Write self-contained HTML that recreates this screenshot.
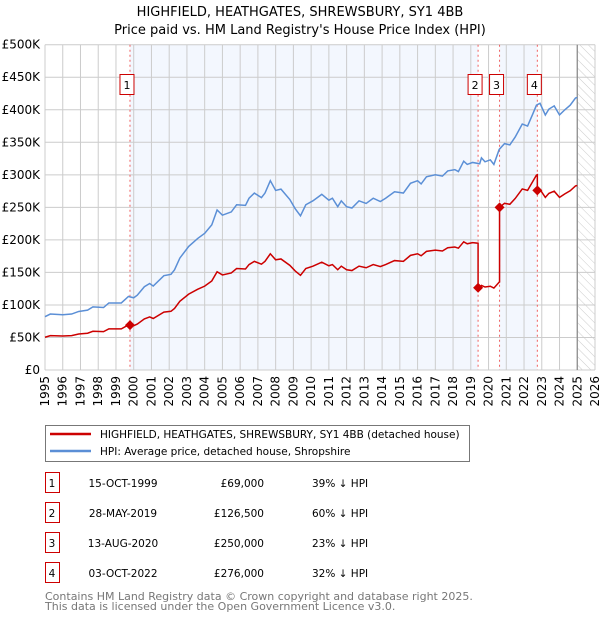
<!DOCTYPE html>
<html><head><meta charset="utf-8"><style>
body{margin:0;background:#fff;font-family:"Liberation Sans",sans-serif}
svg text{font-family:"DejaVu Sans","Liberation Sans",sans-serif}
</style></head><body>
<svg id="c" width="600" height="620" xmlns="http://www.w3.org/2000/svg">
<defs><pattern id="hatch" width="6" height="6" patternUnits="userSpaceOnUse" patternTransform="rotate(-45)"><line x1="0" y1="0" x2="0" y2="6" stroke="#ccc" stroke-width="1"/></pattern></defs>
<text x="300" y="16" text-anchor="middle" font-size="13">HIGHFIELD, HEATHGATES, SHREWSBURY, SY1 4BB</text>
<text x="300" y="34" text-anchor="middle" font-size="13">Price paid vs. HM Land Registry's House Price Index (HPI)</text>
<g id="plot"></g>
<g>
<rect x="45.5" y="425.5" width="424" height="36" fill="#fff" stroke="#777"/>
<line x1="50" y1="434" x2="91" y2="434" stroke="#cc0000" stroke-width="2.5"/>
<text x="100" y="438" font-size="10.5">HIGHFIELD, HEATHGATES, SHREWSBURY, SY1 4BB (detached house)</text>
<line x1="50" y1="451" x2="91" y2="451" stroke="#5b8fd6" stroke-width="2.5"/>
<text x="100" y="455" font-size="10.5">HPI: Average price, detached house, Shropshire</text>
</g>
<g id="table" font-size="10.5"></g>
<text x="45" y="600" font-size="11" fill="#777">Contains HM Land Registry data © Crown copyright and database right 2025.</text>
<text x="45" y="610" font-size="11" fill="#777">This data is licensed under the Open Government Licence v3.0.</text>
</svg>
<script>
const hpiYears=[1995.0,1995.3,1996.0,1996.5,1996.9,1997.4,1997.7,1998.3,1998.6,1999.3,1999.7,2000.0,2000.2,2000.6,2000.9,2001.1,2001.7,2002.1,2002.3,2002.6,2003.1,2003.6,2004.0,2004.4,2004.7,2005.0,2005.5,2005.8,2006.3,2006.5,2006.8,2007.2,2007.4,2007.7,2008.0,2008.3,2008.8,2009.1,2009.4,2009.7,2010.1,2010.6,2011.0,2011.2,2011.5,2011.7,2012.0,2012.3,2012.7,2013.1,2013.5,2013.9,2014.2,2014.7,2015.2,2015.6,2016.0,2016.2,2016.5,2017.0,2017.4,2017.7,2018.1,2018.3,2018.6,2018.8,2019.1,2019.5,2019.6,2019.8,2020.1,2020.3,2020.6,2020.9,2021.2,2021.5,2021.9,2022.2,2022.5,2022.7,2022.9,2023.2,2023.4,2023.7,2024.0,2024.3,2024.6,2024.9,2025.0];
const hpiValues=[82,86,85,86,90,92,97,96,103,103,113,111,115,128,133,129,145,147,154,172,190,202,210,223,246,238,243,254,253,264,272,265,272,291,276,278,262,248,237,254,260,270,261,264,251,260,251,249,260,256,264,259,264,274,272,287,291,286,297,300,298,306,308,305,321,316,319,317,326,320,323,316,339,348,346,358,378,375,394,407,410,392,401,406,392,400,407,418,419];
const saleYears=[1999.79,2019.41,2020.62,2022.75];
const salePrices=[69,126.5,250,276];
const saleLabels=["1","2","3","4"];
const saleDates=["15-OCT-1999","28-MAY-2019","13-AUG-2020","03-OCT-2022"];
const salePriceText=["£69,000","£126,500","£250,000","£276,000"];
const saleDiffText=["39% ↓ HPI","60% ↓ HPI","23% ↓ HPI","32% ↓ HPI"];
const yTicks=[0,50,100,150,200,250,300,350,400,450,500];
const yTickLabels=["£0","£50K","£100K","£150K","£200K","£250K","£300K","£350K","£400K","£450K","£500K"];
const xTicks=[1995,1996,1997,1998,1999,2000,2001,2002,2003,2004,2005,2006,2007,2008,2009,2010,2011,2012,2013,2014,2015,2016,2017,2018,2019,2020,2021,2022,2023,2024,2025,2026];

const X0=45,X1=595,Y0=370,Y1=44.7;
const xs=y=>X0+(y-1995)/31*(X1-X0);
const ys=v=>Y0-v/500*(Y0-Y1);
const NS="http://www.w3.org/2000/svg";
const plot=document.getElementById('plot');
function mk(tag,attrs,parent){const e=document.createElementNS(NS,tag);for(const k in attrs)e.setAttribute(k,attrs[k]);(parent||plot).appendChild(e);return e;}
function hpiAt(t){for(let i=1;i<hpiYears.length;i++){if(t<=hpiYears[i]){const f=(t-hpiYears[i-1])/(hpiYears[i]-hpiYears[i-1]);return hpiValues[i-1]+f*(hpiValues[i]-hpiValues[i-1]);}}return hpiValues[hpiValues.length-1];}

for(const [a,b] of [[0,1],[2,3]]){
 const r=mk('rect',{x:xs(saleYears[a]),y:Y1,width:xs(saleYears[b])-xs(saleYears[a]),height:Y0-Y1,fill:'#f3f7fe'});
 
 
}
const h=mk('rect',{x:xs(2025),y:Y1,width:X1-xs(2025),height:Y0-Y1,fill:'url(#hatch)'});


xTicks.forEach(t=>{const l=mk('line',{x1:xs(t),x2:xs(t),y1:Y1,y2:Y0,stroke:'#ccc','stroke-width':1});
 
 
 const tx=mk('text',{x:0,y:0,'font-size':12,'text-anchor':'end',transform:`translate(${xs(t)+4},${Y0+6}) rotate(-90)`});tx.textContent=t;
 
 
});
yTicks.forEach((v,i)=>{const l=mk('line',{x1:X0,x2:X1,y1:ys(v),y2:ys(v),stroke:'#ccc','stroke-width':1});
 
 
 const tx=mk('text',{x:40,y:ys(v)+4,'font-size':12,'text-anchor':'end'});tx.textContent=yTickLabels[i];
 
 
});
const vl=mk('line',{x1:xs(2025),x2:xs(2025),y1:Y1,y2:Y0,stroke:'#888','stroke-width':1.2});


saleYears.forEach((s,i)=>{
 const l=mk('line',{x1:xs(s),x2:xs(s),y1:Y1,y2:Y0,stroke:'#f06060','stroke-width':1,'stroke-dasharray':'2,3'});
 
 
 const cx=xs(s)-3;
 const b=mk('rect',{x:cx-7,y:74.5,width:14,height:20,fill:'#fff',stroke:'#cc0000'});
 
 
 const t=mk('text',{x:cx,y:89,'font-size':11,'text-anchor':'middle'});t.textContent=saleLabels[i];
 
 
});
const hp=mk('polyline',{points:hpiYears.map((t,i)=>xs(t)+','+ys(hpiValues[i])).join(' '),fill:'none',stroke:'#5b8fd6','stroke-width':1.5});


const pts=[];
const ratioAt=t=>{let k=0;for(let i=0;i<saleYears.length;i++)if(t>=saleYears[i])k=i;return salePrices[k]/hpiAt(saleYears[k]);};
const times=hpiYears.concat(saleYears).sort((a,b)=>a-b);
times.forEach(t=>{
 const si=saleYears.indexOf(t);
 if(si>0){pts.push([t,hpiAt(t)*salePrices[si-1]/hpiAt(saleYears[si-1])]);}
 pts.push([t,hpiAt(t)*ratioAt(t)]);
});
const rp=mk('polyline',{points:pts.map(p=>xs(p[0])+','+ys(p[1])).join(' '),fill:'none',stroke:'#cc0000','stroke-width':1.5});


saleYears.forEach((s,i)=>{
 const x=xs(s),y=ys(salePrices[i]);
 const d=mk('polygon',{points:`${x},${y-5} ${x+5},${y} ${x},${y+5} ${x-5},${y}`,fill:'#cc0000'});
 
 
});
const tb=document.getElementById('table');
saleLabels.forEach((lab,i)=>{
 const y=483+i*30;
 const b=mk('rect',{x:45.5,y:y-10.5,width:14,height:20,fill:'#fff',stroke:'#cc0000'},tb);
 
 
 const cells=[[52,lab,'middle'],[123,saleDates[i],'middle'],[264,salePriceText[i],'end'],[312,saleDiffText[i],'start']];
 cells.forEach(c=>{const t=mk('text',{x:c[0],y:y+4,'text-anchor':c[2]},tb);t.textContent=c[1];
  
  
 });
});
</script>
</body></html>
